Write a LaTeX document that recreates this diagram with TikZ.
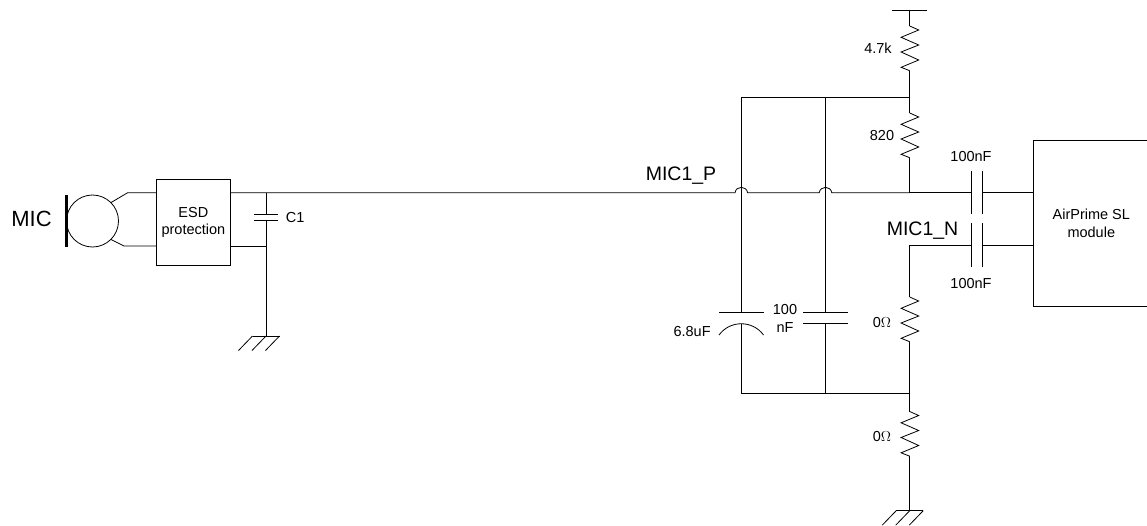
\documentclass[tikz,border=0pt]{standalone}
\usepackage{fontspec}
\setmainfont{Liberation Sans}
\tikzset{
    part/.style={draw, line width=0.8pt, inner sep=0pt, align=center},
    small/.style={inner sep=0pt, align=center, font=\fontsize{14.5}{17.5}\selectfont},
    big/.style={inner sep=0pt, font=\fontsize{19.5}{22}\selectfont},
    pics/res/.style={code={
        \draw (0,0) -- (9,4) -- (-8.6,11.3) -- (9,19) -- (-8.6,26) -- (9,34) -- (-8.6,41.3) -- (0,44.7);
    }},
    pics/gnd/.style={code={
        \draw (-13.5,0) -- (13.5,0);
        \foreach \i in {-13.5,0,13.5} {
            \draw (\i,0) -- ++(-14,14.5);
        }
    }}
}
\begin{document}
\begin{tikzpicture}[x=1pt,y=-1pt,line width=0.8pt]
    \useasboundingbox (0,0) rectangle (1147,525);

    % left part
    \node[inner sep=0pt, font=\fontsize{22}{24}\selectfont] (mic) at (31.5,219) {MIC};
    \node[draw, circle, minimum size=52pt, inner sep=0pt, outer sep=0pt] (capsule) at (92.5,221) {};
    \draw[line width=2.4pt] (66.5,195) -- (66.5,247);
    \node[part, minimum width=73.3pt, minimum height=85.7pt, font=\fontsize{14.5}{17.5}\selectfont] (esd) at (193.4,222.2) {ESD\\protection};
    \coordinate (up) at (127.5,192.8);
    \coordinate (down) at (124,246);
    \draw (capsule.45) -- (up) -- (esd.west |- up);
    \draw (capsule.-45) -- (down) -- (esd.west |- down);

    % C1 and its ground
    \coordinate (ct) at (266,214);
    \coordinate (cb) at (266,220.7);
    \coordinate (gl) at (266,336);
    \draw (ct) ++(-12,0) -- ++(24,0);
    \draw (cb) ++(-12,0) -- ++(24,0);
    \draw (ct |- up) -- (ct);
    \draw (cb) -- (gl);
    \draw (esd.east |- down) -- (cb |- down);
    \pic at (gl) {gnd};
    \node[small, anchor=west] (c1) at (285.5,218) {C1};

    % main line with the two hops
    \coordinate (hopa) at (741.3,192.8);
    \coordinate (hopb) at (825.5,192.8);
    \coordinate (mp) at (909.7,192.8);
    \draw (esd.east |- up) -- ([xshift=-6.3pt]hopa) .. controls +(1,-7.3) and +(-1,-7.3) .. ([xshift=6.3pt]hopa)
        -- ([xshift=-6.3pt]hopb) .. controls +(1,-7.3) and +(-1,-7.3) .. ([xshift=6.3pt]hopb) -- (mp);
    \node[big] (micp) at (681,176) {MIC1\_P};

    % resistors
    \coordinate (vcc) at (909.7,10);
    \coordinate (ra) at (909.7,26);
    \coordinate (rb) at (909.7,70.7);
    \coordinate (ja) at (909.7,97);
    \coordinate (rc) at (909.7,113);
    \coordinate (rd) at (909.7,157.7);
    \coordinate (mn) at (909.7,245);
    \coordinate (re) at (909.7,297);
    \coordinate (rf) at (909.7,341.7);
    \coordinate (jb) at (909.7,393.3);
    \coordinate (rg) at (909.7,411.5);
    \coordinate (rh) at (909.7,456.2);
    \coordinate (gr) at (909.7,510.7);
    \draw (892,10) -- (927,10);
    \draw (vcc) -- (ra);
    \pic at (ra) {res};
    \draw (rb) -- (ja) -- (rc);
    \pic at (rc) {res};
    \draw (rd) -- (mp);
    \draw (mn) -- (re);
    \pic at (re) {res};
    \draw (rf) -- (jb) -- (rg);
    \pic at (rg) {res};
    \draw (rh) -- (gr);
    \pic at (gr) {gnd};
    \node[small] (rone) at (878,48) {4.7k};
    \node[small] (rtwo) at (882,136) {820};
    \node[small] (rthree) at (882,323) {0$\Omega$};
    \node[small] (rfour) at (882,436) {0$\Omega$};

    % the two shunt capacitors
    \coordinate (pa) at (741.3,312.7);
    \coordinate (qa) at (741.3,323.5);
    \coordinate (pb) at (825.5,312.7);
    \coordinate (qb) at (825.5,323.3);
    \draw (ja) -- (hopa |- ja) -- (pa);
    \draw (hopb |- ja) -- (pb);
    \draw (719,312.7) -- (763.5,312.7);
    \draw (719,335) .. controls (730,320) and (752.6,320) .. (763.5,335);
    \draw (803,312.7) -- (847.7,312.7);
    \draw (803,323.3) -- (847.7,323.3);
    \draw (qa) -- (qa |- jb) -- (jb);
    \draw (qb) -- (qb |- jb);
    \node[small, anchor=east] (clarge) at (711,332) {6.8uF};
    \node[small] (csmall) at (785,318.5) {100\\nF};

    % module and coupling capacitors
    \node[part, minimum width=116pt, minimum height=165.7pt, font=\fontsize{14.5}{17.5}\selectfont] (air) at (1091.3,223.2) {AirPrime SL\\module};
    \coordinate (ka) at (971.5,192.8);
    \coordinate (kb) at (982.3,192.8);
    \coordinate (la) at (971.5,245);
    \coordinate (lb) at (982.3,245);
    \draw (ka |- 0,171) -- (ka |- 0,214.3);
    \draw (kb |- 0,171) -- (kb |- 0,214.3);
    \draw (la |- 0,223.3) -- (la |- 0,266.7);
    \draw (lb |- 0,223.3) -- (lb |- 0,266.7);
    \draw (mp) -- (ka);
    \draw (kb) -- (air.west |- kb);
    \draw (mn) -- (la);
    \draw (lb) -- (air.west |- lb);
    \node[big] (micn) at (922.5,231) {MIC1\_N};
    \node[small] (kone) at (971,157) {100nF};
    \node[small] (ktwo) at (971,284) {100nF};
\end{tikzpicture}
\end{document}
